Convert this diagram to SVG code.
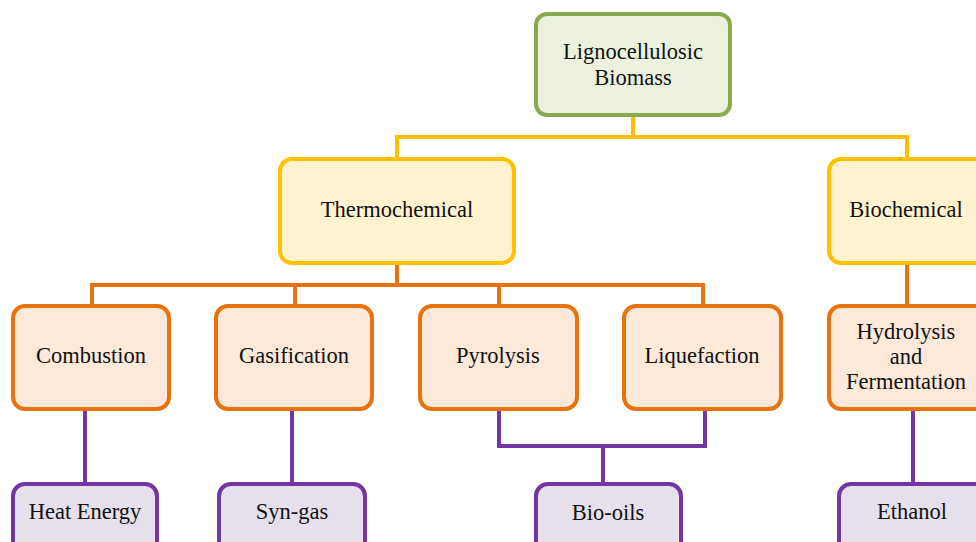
<svg xmlns="http://www.w3.org/2000/svg" width="976" height="542" viewBox="0 0 976 542">
<style>
text{font-family:"Liberation Serif","Times New Roman",serif;font-size:22.5px;fill:#111;text-anchor:middle}
.g{fill:#EBF1DE;stroke:#8AA94E;stroke-width:4}
.y{fill:#FFF2CF;stroke:#FFC000;stroke-width:4}
.o{fill:#FDE9DA;stroke:#E8720E;stroke-width:4}
.p{fill:#E5E0EC;stroke:#7236A2;stroke-width:4}
.cy{fill:none;stroke:#FFC000;stroke-width:4}
.co{fill:none;stroke:#E8720E;stroke-width:4}
.cp{fill:none;stroke:#7236A2;stroke-width:4}
</style>
<rect width="976" height="542" fill="#fff"/>
<g id="connectors">
<path class="cy" d="M633 114V137M397 137H907M397 135V159M907 135V159"/>
<path class="co" d="M397 263V285M90 285H705M92 283V307M295 283V307M499 283V307M703 283V307M907 263V306"/>
<path class="cp" d="M85 408V485M292 408V485M499 408V446H705V408M603 444V485M913 407V484"/>
</g>
<g id="root"><rect class="g" x="536" y="14" width="194" height="101" rx="11"/><text x="633" y="59">Lignocellulosic</text><text x="633" y="85">Biomass</text></g>
<g id="thermochemical"><rect class="y" x="280" y="159" width="234" height="104" rx="12"/><text x="397" y="217">Thermochemical</text></g>
<g id="biochemical"><rect class="y" x="829" y="159" width="160" height="104" rx="12"/><text x="906" y="217">Biochemical</text></g>
<g id="combustion"><rect class="o" x="13" y="306" width="156" height="103" rx="12"/><text x="91" y="363">Combustion</text></g>
<g id="gasification"><rect class="o" x="216" y="306" width="156" height="103" rx="12"/><text x="294" y="363">Gasification</text></g>
<g id="pyrolysis"><rect class="o" x="420" y="306" width="157" height="103" rx="12"/><text x="498" y="363">Pyrolysis</text></g>
<g id="liquefaction"><rect class="o" x="624" y="306" width="157" height="103" rx="12"/><text x="702" y="363">Liquefaction</text></g>
<g id="hydrolysis"><rect class="o" x="829" y="306" width="160" height="103" rx="12"/><text x="906" y="339">Hydrolysis</text><text x="906" y="364">and</text><text x="906" y="389">Fermentation</text></g>
<g id="heat-energy"><rect class="p" x="13" y="484" width="144" height="80" rx="12"/><text x="85" y="519">Heat Energy</text></g>
<g id="syn-gas"><rect class="p" x="219" y="484" width="146" height="80" rx="12"/><text x="292" y="519">Syn-gas</text></g>
<g id="bio-oils"><rect class="p" x="536" y="484" width="145" height="80" rx="12"/><text x="608" y="520">Bio-oils</text></g>
<g id="ethanol"><rect class="p" x="839" y="484" width="150" height="80" rx="12"/><text x="912" y="519">Ethanol</text></g>
</svg>
